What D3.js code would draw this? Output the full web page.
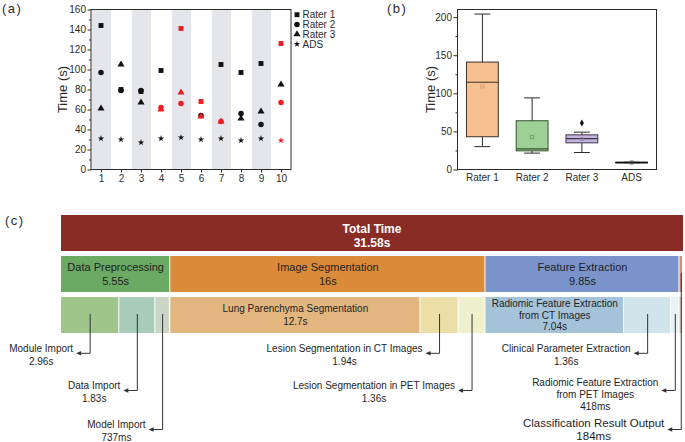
<!DOCTYPE html>
<html>
<head>
<meta charset="utf-8">
<script src="https://cdn.jsdelivr.net/npm/d3@7/dist/d3.min.js"></script>
<style>
  body { margin: 0; background: #fff; }
  text { font-family: 'Liberation Sans', Arial, Helvetica, sans-serif; }
</style>
</head>
<body>
<svg id="fig" width="685" height="442"></svg>
<script>
// --- Panel (a): per-case times ---
const casesA = [1, 2, 3, 4, 5, 6, 7, 8, 9, 10];
const rater1A = [144, 80, 78, 99, 141, 68, 105, 97, 106, 126];
const rater2A = [97, 79, 79, 62, 66, 54, 48, 56, 45, 67];
const rater3A = [61, 105, 67, 60, 77, 53, 48, 51, 58, 85];
const adsA = [31, 30, 27, 31, 32, 30, 31, 29, 31, 29];
// cases drawn in red for each series
const rater1Red = [5, 6, 10];
const rater2Red = [4, 5, 7, 10];
const rater3Red = [4, 5, 6, 7];
const adsRed = [10];
const seriesNamesA = ["Rater 1", "Rater 2", "Rater 3", "ADS"];
const yTicksA = [0, 20, 40, 60, 80, 100, 120, 140, 160];

// --- Panel (b): box summary ---
const boxGroups = ["Rater 1", "Rater 2", "Rater 3", "ADS"];
const boxMin = [30, 21.5, 22.3, 8.9];
const boxQ1 = [43, 24.5, 35, 9.0];
const boxMedian = [114.5, 27, 40.5, 9.2];
const boxQ3 = [141, 64, 45.5, 9.4];
const boxMax = [204, 94, 49, 9.5];
const boxMean = [109, 42.5, 40, 9.2];
const boxOutliers = [[], [], [61], []];
const yTicksB = [0, 50, 100, 150, 200];

// --- Panel (c): time breakdown ---
const totalTime = 31.58;
const totalLabel = "31.58s";
const stageNames = ["Data Preprocessing", "Image Segmentation", "Feature Extraction", ""];
const stageTimes = [5.55, 16, 9.85, 0.184];
const stageLabels = ["5.55s", "16s", "9.85s", ""];
const stepNames = ["Module Import", "Data Import", "Model Import", "Lung Parenchyma Segmentation",
  "Lesion Segmentation in CT Images", "Lesion Segmentation in PET Images",
  "Radiomic Feature Extraction\nfrom CT Images", "Clinical Parameter Extraction",
  "Radiomic Feature Extraction\nfrom PET Images", "Classification Result Output"];
const stepStage = [0, 0, 0, 1, 1, 1, 2, 2, 2, 3];
const stepTimes = [2.96, 1.83, 0.737, 12.7, 1.94, 1.36, 7.04, 2.39, 0.418, 0.184];
const stepLabels = ["2.96s", "1.83s", "737ms", "12.7s", "1.94s", "1.36s", "7.04s", "1.36s", "418ms", "184ms"];
// callout row for each step (null = label inside the bar)
const stepCallout = [0, 1, 2, null, 0, 1, null, 0, 1, 2];

const svg = d3.select("#fig");
const INK = "#2b2b2b";

function panelTag(x, y, t) {
    svg.append("text").attr("x", x).attr("y", y).text(t)
       .style("font-size", "13px").style("letter-spacing", "1.5px").style("fill", INK)
       .attr("dominant-baseline", "central");
}

// ================= Panel (a) =================
function drawPanelA() {
    const xA = d3.scaleLinear().domain([0.5, 10.5]).range([91, 291]);
    const yA = d3.scaleLinear().domain([0, 160]).range([169.5, 9.5]);
    const g = svg.append("g");

    // alternating shaded columns
    casesA.filter(c => c % 2 === 1).forEach(c => {
        g.append("rect").attr("x", xA(c - 0.46)).attr("y", yA(160))
         .attr("width", xA(c + 0.5) - xA(c - 0.46)).attr("height", yA(0) - yA(160))
         .attr("fill", "#e5e6eb");
    });

    g.append("g").attr("transform", `translate(${xA(0.5)},0)`)
       .call(d3.axisLeft(yA).tickValues(yTicksA).tickSize(3.5).tickPadding(1.5));
    g.append("g").attr("transform", `translate(${xA(0.5)},0)`)
       .call(d3.axisLeft(yA).tickValues(d3.range(10, 160, 20)).tickSize(2).tickFormat(""));
    g.append("g").attr("transform", `translate(0,${yA(0)})`)
       .call(d3.axisBottom(xA).tickValues(casesA).tickSize(3).tickPadding(2));
    g.selectAll(".domain").remove();
    g.selectAll(".tick line").attr("stroke", INK);
    g.selectAll(".tick text").style("font-size", "10px").style("fill", INK)
       .style("font-family", "'Liberation Sans', Arial, sans-serif");

    g.append("rect").attr("x", xA(0.5)).attr("y", yA(160))
     .attr("width", xA(10.5) - xA(0.5)).attr("height", yA(0) - yA(160))
     .attr("fill", "none").attr("stroke", INK).attr("stroke-width", 1);

    g.append("text").attr("transform", `translate(62,${(yA(0) + yA(160)) / 2}) rotate(-90)`)
     .attr("text-anchor", "middle").attr("dominant-baseline", "central")
     .style("font-size", "13px").style("fill", INK).text("Time (s)");

    const series = [
        { vals: rater1A, red: rater1Red, type: d3.symbolSquare, size: 24 },
        { vals: rater2A, red: rater2Red, type: d3.symbolCircle, size: 24 },
        { vals: rater3A, red: rater3Red, type: d3.symbolTriangle, size: 22 },
        { vals: adsA, red: adsRed, type: d3.symbolStar, size: 13 }
    ];
    series.forEach(s => {
        const sym = d3.symbol().type(s.type).size(s.size);
        s.vals.forEach((v, i) => {
            const c = casesA[i];
            g.append("path").attr("d", sym)
             .attr("transform", `translate(${xA(c)},${yA(v)})`)
             .attr("fill", s.red.includes(c) ? "#ee1c24" : "#111");
        });
    });

    // legend
    series.forEach((s, i) => {
        const ly = 14.7 + i * 9.8;
        g.append("path").attr("d", d3.symbol().type(s.type).size(s.size))
         .attr("transform", `translate(297,${ly})`).attr("fill", "#111");
        g.append("text").attr("x", 302.5).attr("y", ly).attr("dominant-baseline", "central")
         .style("font-size", "10px").style("fill", INK).text(seriesNamesA[i]);
    });
}

// ================= Panel (b) =================
function drawPanelB() {
    const xB = d3.scaleBand().domain(boxGroups).range([457.5, 656.5]);
    const yB = d3.scaleLinear().domain([0, 210]).range([169.5, 9.5]);
    const g = svg.append("g");
    const fills = ["#f6c18f", "#9dd094", "#c6b4dc", "#d9d9d9"];
    const strokes = ["#3b2f27", "#34502f", "#3c3548", "#111"];
    const meanCols = ["#c99468", "#5c9956", "#9a88b6", "#555"];

    g.append("g").attr("transform", `translate(${xB.range()[0]},0)`)
       .call(d3.axisLeft(yB).tickValues(yTicksB).tickSize(4).tickPadding(1.5));
    g.append("g").attr("transform", `translate(${xB.range()[0]},0)`)
       .call(d3.axisLeft(yB).tickValues([25, 75, 125, 175]).tickSize(2).tickFormat(""));
    g.append("g").attr("transform", `translate(0,${yB(0)})`)
       .call(d3.axisBottom(xB).tickSize(0).tickPadding(4));
    g.selectAll(".domain").remove();
    g.selectAll(".tick line").attr("stroke", INK);
    g.selectAll(".tick text").style("font-size", "10px").style("fill", INK)
       .style("font-family", "'Liberation Sans', Arial, sans-serif");

    g.append("rect").attr("x", xB.range()[0]).attr("y", yB(210))
     .attr("width", xB.range()[1] - xB.range()[0]).attr("height", yB(0) - yB(210))
     .attr("fill", "none").attr("stroke", INK);

    g.append("text").attr("transform", `translate(430,${(yB(0) + yB(210)) / 2}) rotate(-90)`)
     .attr("text-anchor", "middle").attr("dominant-baseline", "central")
     .style("font-size", "13px").style("fill", INK).text("Time (s)");

    const bw = xB.bandwidth() * 0.64;
    const cw = xB.bandwidth() * 0.32;
    boxGroups.forEach((k, i) => {
        const cx = xB(k) + xB.bandwidth() / 2;
        // whiskers
        g.append("line").attr("x1", cx).attr("x2", cx).attr("y1", yB(boxMax[i])).attr("y2", yB(boxQ3[i])).attr("stroke", INK);
        g.append("line").attr("x1", cx).attr("x2", cx).attr("y1", yB(boxQ1[i])).attr("y2", yB(boxMin[i])).attr("stroke", INK);
        [boxMax[i], boxMin[i]].forEach(v => {
            g.append("line").attr("x1", cx - cw / 2).attr("x2", cx + cw / 2).attr("y1", yB(v)).attr("y2", yB(v)).attr("stroke", INK);
        });
        g.append("rect").attr("x", cx - bw / 2).attr("y", yB(boxQ3[i]))
         .attr("width", bw).attr("height", Math.max(0.5, yB(boxQ1[i]) - yB(boxQ3[i])))
         .attr("fill", fills[i]).attr("stroke", strokes[i]).attr("stroke-width", 1);
        g.append("line").attr("x1", cx - bw / 2).attr("x2", cx + bw / 2)
         .attr("y1", yB(boxMedian[i])).attr("y2", yB(boxMedian[i])).attr("stroke", strokes[i])
         .attr("stroke-width", i === 3 ? 1.6 : 1.2);
        g.append("rect").attr("x", cx - 1.6).attr("y", yB(boxMean[i]) - 1.6).attr("width", 3.2).attr("height", 3.2)
         .attr("fill", "none").attr("stroke", meanCols[i]).attr("stroke-width", 0.7);
        boxOutliers[i].forEach(v => {
            g.append("path").attr("d", d3.symbol().type(d3.symbolDiamond).size(14))
             .attr("transform", `translate(${cx},${yB(v)})`).attr("fill", "#111");
        });
    });
}

// ================= Panel (c) =================
function drawPanelC() {
    const xC = d3.scaleLinear().domain([0, totalTime]).range([61, 683]);
    const g = svg.append("g");
    const rowY = [215, 256, 297];
    const rowH = 36;
    const stageFill = ["#6aaa63", "#db8a39", "#7b93cb", "#d3917a"];
    const stepFill = ["#a0c58b", "#a9cbb9", "#c9d6c6", "#e3b67f", "#ebdfa7", "#eff1cc",
                      "#a4c3d9", "#cfe4eb", "#e8f1f4", "#e9c1b1"];
    const stageStart = [0].concat(Array.from(d3.cumsum(stageTimes)));

    // total bar
    g.append("rect").attr("x", xC(0)).attr("y", rowY[0]).attr("width", xC(totalTime) - xC(0))
     .attr("height", rowH).attr("fill", "#8a2c26");
    g.append("text").attr("x", (xC(0) + xC(totalTime)) / 2).attr("y", rowY[0] + 14)
     .attr("text-anchor", "middle").attr("dominant-baseline", "central")
     .style("font-size", "12px").style("font-weight", "bold").style("fill", "#fff").text("Total Time");
    g.append("text").attr("x", (xC(0) + xC(totalTime)) / 2).attr("y", rowY[0] + 28)
     .attr("text-anchor", "middle").attr("dominant-baseline", "central")
     .style("font-size", "12px").style("font-weight", "bold").style("fill", "#fff").text(totalLabel);

    // stages
    stageNames.forEach((name, i) => {
        const x0 = xC(stageStart[i]), x1 = xC(stageStart[i] + stageTimes[i]);
        g.append("rect").attr("x", x0).attr("y", rowY[1]).attr("width", Math.max(1, x1 - x0 - 1))
         .attr("height", rowH).attr("fill", stageFill[i]);
        if (name) {
            g.append("text").attr("x", (x0 + x1) / 2).attr("y", rowY[1] + 11)
             .attr("text-anchor", "middle").attr("dominant-baseline", "central")
             .style("font-size", "11px").style("fill", "#1e1e1e").text(name);
            g.append("text").attr("x", (x0 + x1) / 2).attr("y", rowY[1] + 24.5)
             .attr("text-anchor", "middle").attr("dominant-baseline", "central")
             .style("font-size", "11px").style("fill", "#1e1e1e").text(stageLabels[i]);
        }
    });

    // steps
    const offsetInStage = stageNames.map(() => 0);
    const calloutY = [353.3, 390.5, 429.5];
    stepNames.forEach((name, i) => {
        const s = stepStage[i];
        const t0 = stageStart[s] + offsetInStage[s];
        offsetInStage[s] += stepTimes[i];
        const x0 = xC(t0), x1 = xC(t0 + stepTimes[i]);
        g.append("rect").attr("x", x0).attr("y", rowY[2]).attr("width", Math.max(1, x1 - x0 - 1))
         .attr("height", rowH).attr("fill", stepFill[i]);

        const lines = name.split("\n").concat([stepLabels[i]]);
        if (stepCallout[i] === null) {
            const mid = rowY[2] + rowH / 2;
            const sp = lines.length > 2 ? 11.5 : 12.5;
            lines.forEach((ln, j) => {
                g.append("text").attr("x", (x0 + x1) / 2).attr("y", mid + (j - (lines.length - 1) / 2) * sp)
                 .attr("text-anchor", "middle").attr("dominant-baseline", "central")
                 .style("font-size", "10px").style("fill", "#1e1e1e").text(ln);
            });
            return;
        }
        const cx = (x0 + x1) / 2;
        const ay = calloutY[stepCallout[i]];
        const yTop = s === 3 ? rowY[1] + 17 : rowY[2] + 17;
        const tip = cx - 14;
        g.append("path").attr("d", `M${cx},${yTop}V${ay}H${tip + 4}`)
         .attr("fill", "none").attr("stroke", "#333").attr("stroke-width", 1);
        g.append("path").attr("d", `M${tip},${ay}L${tip + 5},${ay - 2.2}L${tip + 5},${ay + 2.2}Z`).attr("fill", "#333");

        const big = i === stepNames.length - 1;
        const fs = big ? 11.5 : 10;
        const sp = lines.length > 2 ? 12.2 : (big ? 12.6 : 13.2);
        const y0 = ay - (big ? 6.5 : 5) - (lines.length - 2) * 3.3;
        const first = g.append("text").attr("x", tip - 3).attr("y", y0)
         .attr("text-anchor", "end").attr("dominant-baseline", "central")
         .style("font-size", fs + "px").style("fill", "#1e1e1e").text(lines[0]);
        const w = first.node().getComputedTextLength();
        const mx = tip - 3 - w / 2;
        lines.slice(1).forEach((ln, j) => {
            g.append("text").attr("x", mx).attr("y", y0 + (j + 1) * sp)
             .attr("text-anchor", "middle").attr("dominant-baseline", "central")
             .style("font-size", fs + "px").style("fill", "#1e1e1e").text(ln);
        });
    });
}

panelTag(2, 8, "(a)");
panelTag(387, 8, "(b)");
panelTag(5, 220, "(c)");
drawPanelA();
drawPanelB();
drawPanelC();
</script>
</body>
</html>
